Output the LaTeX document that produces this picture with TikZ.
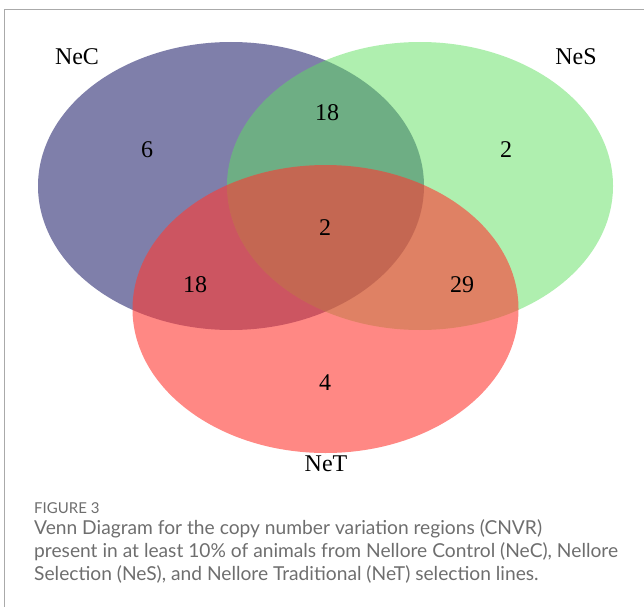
\documentclass[tikz,border=0pt]{standalone}
\usepackage{fontspec}
\setmainfont{Liberation Serif}
\newfontfamily\captionfont{Lato}
\usepackage{xcolor}

\definecolor{NeCfill}{RGB}{0,0,85}
\definecolor{NeSfill}{RGB}{95,223,95}
\definecolor{NeTfill}{RGB}{255,57,50}
\definecolor{framegray}{RGB}{170,170,170}
\definecolor{captiongray}{RGB}{110,110,110}

\tikzset{
    venntext/.style={font=\fontsize{24}{28}\selectfont, inner sep=0pt},
    captext/.style={font=\captionfont\fontsize{19.2}{23}\selectfont, text=captiongray, anchor=base west, inner sep=0pt}
}

\begin{document}
\begin{tikzpicture}[x=1pt, y=-1pt]
        \useasboundingbox (0, 0) rectangle (644, 607);
        \draw[color=framegray, line width=1.2pt] (644, 9.5) -- (4.5, 9.5) -- (4.5, 607);

        % the three sets
        \fill[color=NeCfill, fill opacity=0.5] (231, 186) ellipse [x radius=193, y radius=144];
        \fill[color=NeSfill, fill opacity=0.5] (420, 186) ellipse [x radius=193, y radius=144];
        \fill[color=NeTfill, fill opacity=0.6] (325.5, 309) ellipse [x radius=193, y radius=144];

        \node[venntext] (labNeC) at (77, 57) {NeC};
        \node[venntext] (labNeS) at (576, 57) {NeS};
        \node[venntext] (labNeT) at (326, 464) {NeT};

        \node[venntext] (onlyC) at (147, 150) {6};
        \node[venntext] (CS) at (327, 113) {18};
        \node[venntext] (onlyS) at (506, 150) {2};
        \node[venntext] (CST) at (325, 228) {2};
        \node[venntext] (CT) at (195, 285) {18};
        \node[venntext] (ST) at (462, 285) {29};
        \node[venntext] (onlyT) at (325, 383) {4};

        % caption
        \node[captext, font=\captionfont\fontsize{15}{18}\selectfont] (figno) at (34, 513) {FIGURE 3};
        \node[captext] (cap1) at (34, 534) {Venn Diagram for the copy number variation regions (CNVR)};
        \node[captext] (cap2) at (34, 557) {present in at least 10\% of animals from Nellore Control (NeC), Nellore};
        \node[captext] (cap3) at (34, 580) {Selection (NeS), and Nellore Traditional (NeT) selection lines.};
    \end{tikzpicture}
\end{document}
